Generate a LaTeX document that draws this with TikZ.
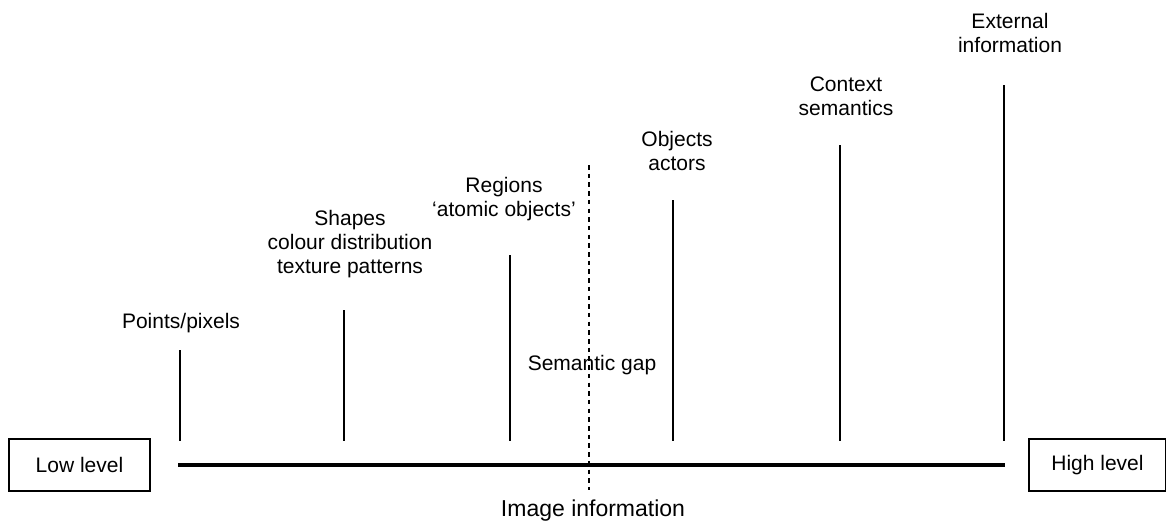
\documentclass[tikz,border=0pt]{standalone}
\usepackage{fontspec}
\setmainfont{Liberation Sans}
\begin{document}
\begin{tikzpicture}[
    x=1pt, y=-1pt,
    txt/.style={inner sep=0pt, align=center, font=\fontsize{21}{24}\selectfont},
    levelbox/.style={draw, line width=1.4pt, minimum width=#1, minimum height=52pt, inner sep=0pt, font=\fontsize{21}{24}\selectfont},
    tick/.style={line width=2.8pt},
    axis/.style={line width=3.2pt},
    gap/.style={line width=2.2pt, dash pattern=on 4.5pt off 4.2pt}
]
    \useasboundingbox (0,0) rectangle (1166,523);

    % end boxes and the axis between them
    \node[levelbox=141pt] (low) at (79.5,465) {Low level};
    \node[levelbox=137pt] (high) at (1097.5,465) {High level};
    \coordinate (axisL) at (178,465);
    \coordinate (axisR) at (1005,465);
    \draw[axis] (axisL) -- (axisR);
    \node[txt, anchor=base, font=\fontsize{23}{26}\selectfont] (info) at (593,516) {Image information};

    % ticks, rising towards the high level end
    \foreach \name/\x/\top in {pix/180/350, shp/344/310, reg/510/255, obj/673/200, ctx/840/145, ext/1004/85} {
        \coordinate (\name T) at (\x,\top);
        \coordinate (\name B) at (\x,441);
        \draw[tick] (\name T) -- (\name B);
    }

    % labels above the ticks (base = last line)
    \node[txt, anchor=base] (pixlbl) at (181,328) {Points/pixels};
    \node[txt, anchor=base] (shplbl) at (350,273) {Shapes\\colour distribution\\texture patterns};
    \node[txt, anchor=base] (reglbl) at (504,216) {Regions\\`atomic objects'};
    \node[txt, anchor=base] (objlbl) at (677,170) {Objects\\actors};
    \node[txt, anchor=base] (ctxlbl) at (846,115) {Context\\semantics};
    \node[txt, anchor=base] (extlbl) at (1010,52) {External\\information};

    % the gap between low and high level content
    \node[txt, anchor=base] (gaplbl) at (592,370) {Semantic gap};
    \coordinate (gapT) at (589,165);
    \coordinate (gapB) at (589,490);
    \draw[gap] (gapT) -- (gapB);
\end{tikzpicture}
\end{document}
